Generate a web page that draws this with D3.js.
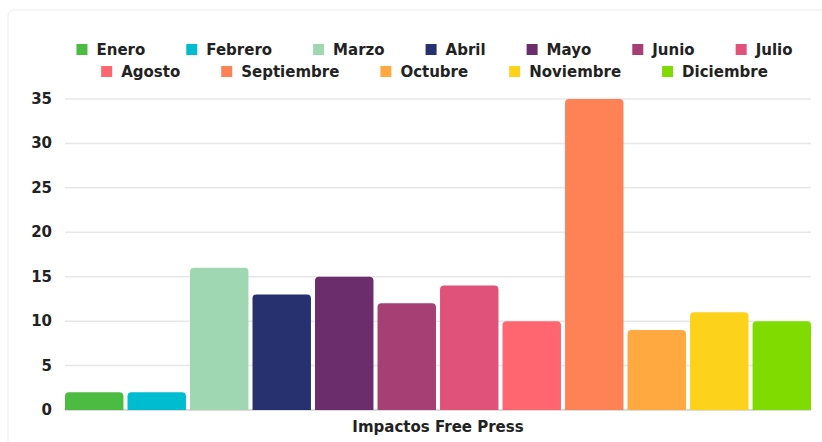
<!DOCTYPE html>
<html><head><meta charset="utf-8">
<script src="https://cdn.jsdelivr.net/npm/d3@7"></script>
<style>html,body{margin:0;padding:0;background:#fff;}svg{display:block;}</style>
</head><body>
<svg id="c" width="822" height="442"></svg>
<script>
const months = ["Enero","Febrero","Marzo","Abril","Mayo","Junio","Julio","Agosto","Septiembre","Octubre","Noviembre","Diciembre"];
const values = [2,2,16,13,15,12,14,10,35,9,11,10];
const colors = ["#4CBB42","#00BCD0","#9ED7B2","#283170","#6B2D6B","#A53F74","#E0527A","#FF6670","#FF8257","#FFA940","#FDD21A","#80DC00"];
const yTicks = [0,5,10,15,20,25,30,35];
const xTitle = "Impactos Free Press";
const legendRows = [[0,1,2,3,4,5,6],[7,8,9,10,11]];

const FONT = "'DejaVu Sans', sans-serif";
const svg = d3.select("#c");

svg.append("rect").attr("x",8).attr("y",10).attr("width",900).attr("height",500)
  .attr("rx",6).attr("fill","#fff").attr("stroke","#ececec").attr("stroke-width",1);

const x = d3.scaleBand().domain(months).range([65,811]).paddingInner(0.065).paddingOuter(0);
const y = d3.scaleLinear().domain([0,35]).range([410,99]);

// gridlines
svg.append("g").selectAll("line").data(yTicks).join("line")
  .attr("x1",65).attr("x2",811)
  .attr("y1",d=>y(d)).attr("y2",d=>y(d))
  .attr("stroke",d=>d===0?"#cfcfcf":"#e7e7e7").attr("stroke-width",1.5);

// y labels
svg.append("g").selectAll("text").data(yTicks).join("text")
  .attr("x",52).attr("y",d=>y(d)).attr("text-anchor","end").attr("dominant-baseline","central")
  .attr("font-family",FONT).attr("font-weight","bold").attr("font-size",15).attr("fill","#222")
  .text(d=>d);

// bars with rounded top corners
function barPath(x0,w,yt,yb,r){
  r=Math.min(r,w/2,(yb-yt));
  return `M${x0},${yb}V${yt+r}Q${x0},${yt} ${x0+r},${yt}H${x0+w-r}Q${x0+w},${yt} ${x0+w},${yt+r}V${yb}Z`;
}
svg.append("g").selectAll("path").data(months).join("path")
  .attr("d",(m,i)=>barPath(x(m),x.bandwidth(),y(values[i]),y(0),4))
  .attr("fill",(m,i)=>colors[i]);

// x title
svg.append("text").attr("x",(65+811)/2).attr("y",427).attr("text-anchor","middle")
  .attr("dominant-baseline","central")
  .attr("font-family",FONT).attr("font-weight","bold").attr("font-size",15).attr("fill","#222")
  .text(xTitle);

// legend
const box=11, boxGap=9, itemGap=41, cx=434.5;
const rowY=[49.5,71.5];
const measure = svg.append("text").attr("font-family",FONT).attr("font-weight","bold").attr("font-size",15).attr("visibility","hidden");
function tw(s){measure.text(s);return measure.node().getComputedTextLength();}
legendRows.forEach((row,ri)=>{
  const widths=row.map(i=>box+boxGap+tw(months[i]));
  const total=d3.sum(widths)+itemGap*(row.length-1);
  let cur=cx-total/2;
  const g=svg.append("g");
  row.forEach((i,k)=>{
    g.append("rect").attr("x",cur).attr("y",rowY[ri]-box/2).attr("width",box).attr("height",box).attr("fill",colors[i]);
    g.append("text").attr("x",cur+box+boxGap).attr("y",rowY[ri]).attr("dominant-baseline","central")
      .attr("font-family",FONT).attr("font-weight","bold").attr("font-size",15).attr("fill","#222")
      .text(months[i]);
    cur+=widths[k]+itemGap;
  });
});
measure.remove();
</script>
</body></html>
